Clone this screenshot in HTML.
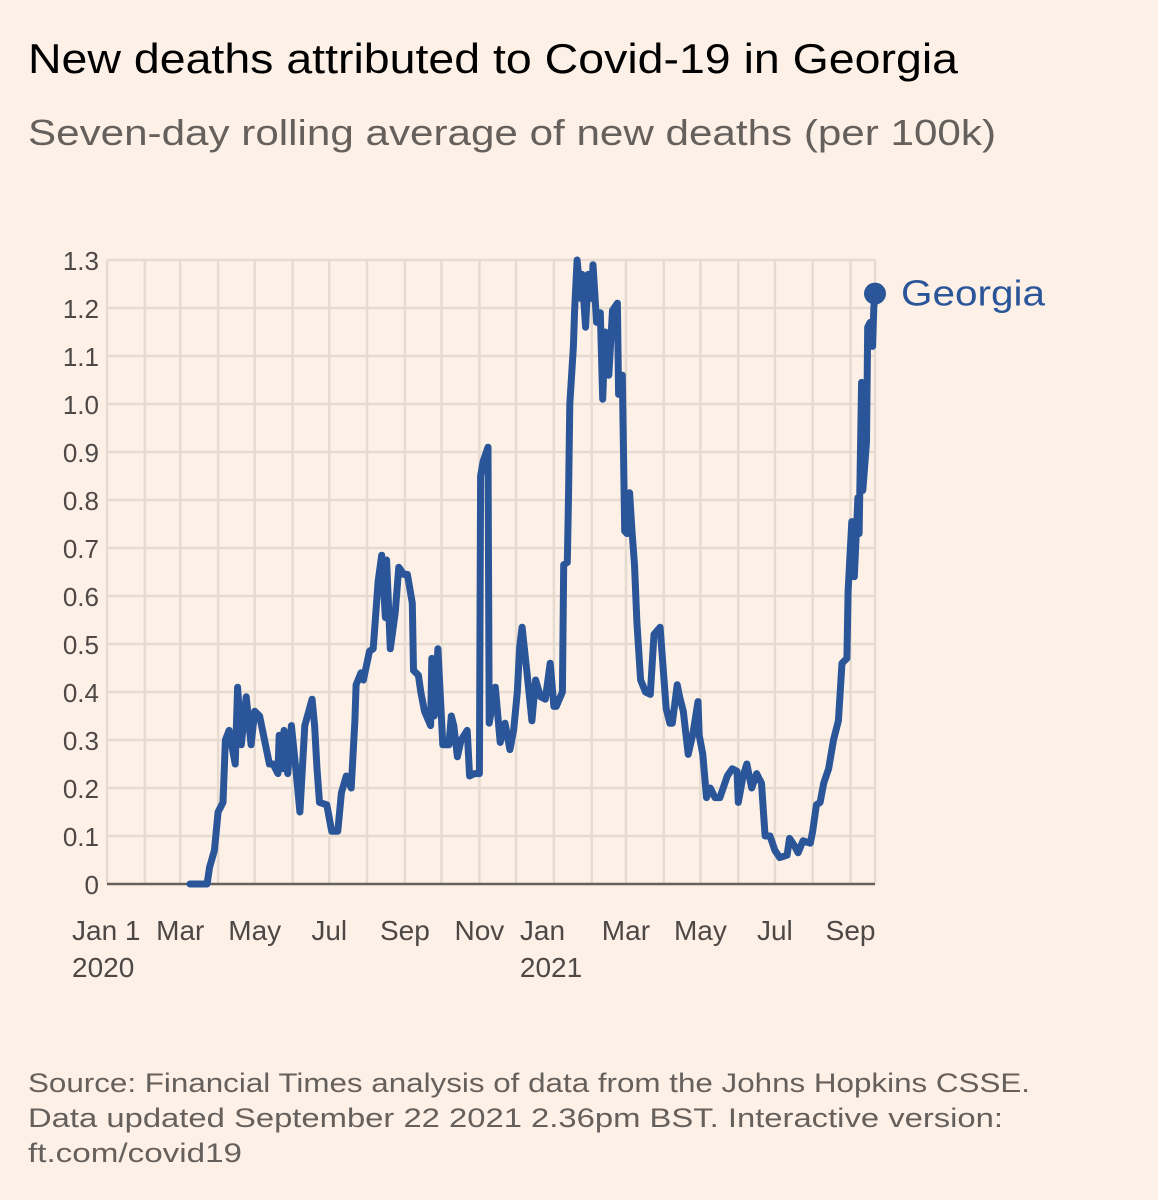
<!DOCTYPE html>
<html><head><meta charset="utf-8"><style>
html,body{margin:0;padding:0;background:#fdf1e7;}
svg{display:block;font-family:"Liberation Sans",sans-serif;}
</style></head><body>
<svg id="chart" width="1158" height="1200" viewBox="0 0 1158 1200">
<rect width="1158" height="1200" fill="#fdf1e7"/>
<text x="28" y="73" font-size="42" fill="#000" textLength="930" lengthAdjust="spacingAndGlyphs">New deaths attributed to Covid-19 in Georgia</text>
<text x="28" y="145" font-size="36" fill="#66605c" textLength="968" lengthAdjust="spacingAndGlyphs">Seven-day rolling average of new deaths (per 100k)</text>
<g id="grid"></g>
<g id="yticks"></g>
<g id="xticks"></g>
<line x1="107" y1="884" x2="875" y2="884" stroke="#66605c" stroke-width="2.5"/>
<path id="line" fill="none" stroke="#2a5699" stroke-width="7" stroke-linejoin="round" stroke-linecap="round"/>
<circle id="enddot" r="11" fill="#2a5699"/>
<text id="endlabel" font-size="36" fill="#2a5699" textLength="144" lengthAdjust="spacingAndGlyphs">Georgia</text>
<text x="28" y="1092" font-size="27" fill="#66605c" textLength="1002" lengthAdjust="spacingAndGlyphs">Source: Financial Times analysis of data from the Johns Hopkins CSSE.</text>
<text x="28" y="1127" font-size="27" fill="#66605c" textLength="975" lengthAdjust="spacingAndGlyphs">Data updated September 22 2021 2.36pm BST. Interactive version:</text>
<text x="28" y="1162" font-size="27" fill="#66605c" textLength="214" lengthAdjust="spacingAndGlyphs">ft.com/covid19</text>
</svg>
<script>
// days since Jan 1 2020
const days = [68,82,84,88,91,95,97,100,105,107,110,114,118,121,125,129,133,136,140,141,144,145,148,151,155,158,162,168,170,172,174,180,184,189,192,196,200,203,204,208,210,215,218,222,225,228,229,232,236,239,243,246,250,251,255,257,260,265,266,268,271,274,275,280,282,284,287,290,295,297,301,305,306,308,312,313,318,322,326,330,333,336,338,340,344,348,351,355,359,363,366,368,373,374,377,378,379,382,383,385,388,389,392,394,397,398,401,404,406,408,411,414,418,419,422,424,426,428,430,432,434,437,441,445,448,453,455,458,461,463,467,469,472,476,480,484,485,488,491,494,498,502,508,512,516,517,521,524,528,532,536,539,543,547,551,557,559,563,566,570,576,578,581,584,587,591,595,599,602,606,607,610,612,615,616,618,619,622,623,625,627,628,629];
const values = [0,0,0.035,0.07,0.15,0.17,0.30,0.32,0.25,0.41,0.29,0.39,0.29,0.36,0.35,0.30,0.25,0.25,0.23,0.31,0.24,0.32,0.23,0.33,0.23,0.15,0.33,0.385,0.33,0.24,0.17,0.165,0.11,0.11,0.19,0.225,0.20,0.34,0.415,0.44,0.425,0.485,0.49,0.63,0.685,0.555,0.675,0.49,0.565,0.66,0.645,0.645,0.585,0.445,0.435,0.40,0.36,0.33,0.47,0.35,0.49,0.34,0.29,0.29,0.35,0.33,0.265,0.30,0.32,0.225,0.23,0.23,0.85,0.88,0.91,0.335,0.41,0.295,0.335,0.28,0.32,0.40,0.495,0.535,0.44,0.34,0.425,0.39,0.385,0.46,0.37,0.37,0.40,0.665,0.67,0.805,1.0,1.12,1.195,1.30,1.22,1.27,1.16,1.27,1.22,1.29,1.17,1.19,1.01,1.15,1.06,1.195,1.21,1.02,1.06,0.735,0.73,0.815,0.735,0.665,0.545,0.425,0.40,0.395,0.52,0.535,0.465,0.365,0.335,0.335,0.415,0.39,0.36,0.27,0.315,0.38,0.31,0.27,0.18,0.20,0.18,0.18,0.225,0.24,0.235,0.17,0.225,0.25,0.20,0.23,0.21,0.10,0.10,0.07,0.055,0.06,0.095,0.08,0.065,0.09,0.085,0.11,0.165,0.17,0.21,0.24,0.30,0.34,0.46,0.47,0.61,0.755,0.64,0.805,0.73,1.045,0.82,0.92,1.16,1.17,1.12,1.20,1.23];
const yTickValues = [0,0.1,0.2,0.3,0.4,0.5,0.6,0.7,0.8,0.9,1.0,1.1,1.2,1.3];
const yTickLabels = ["0","0.1","0.2","0.3","0.4","0.5","0.6","0.7","0.8","0.9","1.0","1.1","1.2","1.3"];
const monthDays = [0,31,60,91,121,152,182,213,244,274,305,335,366,397,425,456,486,517,547,578,609];
const xLabelDays = [0,60,121,182,244,305,366,425,486,547,609];
const xLabelTop = ["Jan 1","Mar","May","Jul","Sep","Nov","Jan","Mar","May","Jul","Sep"];
const xLabelBottom = ["2020","","","","","","2021","","","",""];

const NS = "http://www.w3.org/2000/svg";
const x = d => 107 + d * 1.221;
const y = v => 884 - v * 480;
function mk(tag, attrs, parent){const e=document.createElementNS(NS,tag);for(const k in attrs)e.setAttribute(k,attrs[k]);parent.appendChild(e);return e;}
const grid=document.getElementById('grid'), yt=document.getElementById('yticks'), xt=document.getElementById('xticks');
yTickValues.forEach((v,i)=>{
  if(v>0){const l=mk('line',{x1:107,x2:875,y1:y(v),y2:y(v),stroke:'#e6dbd0','stroke-width':2.5},grid);
  
  }
  const t=mk('text',{x:99,y:y(v)+10,'font-size':26,fill:'#4d4845','text-anchor':'end'},yt);
  
  
  t.textContent=yTickLabels[i];
});
monthDays.forEach(d=>{
  const l=mk('line',{x1:x(d),x2:x(d),y1:y(1.3),y2:884,stroke:'#e6dbd0','stroke-width':2.5},grid);
  
  
});
mk('line',{x1:875,x2:875,y1:y(1.3),y2:884,stroke:'#e6dbd0','stroke-width':2.5},grid);
xLabelDays.forEach((d,i)=>{
  const anchor = i===0?'start':'middle';
  const xx = i===0?72:(i===6?x(d)-34:x(d));
  const t=mk('text',{x:xx,y:940,'font-size':28,fill:'#4d4845','text-anchor':i===6?'start':anchor},xt);
  
  
  t.textContent=xLabelTop[i];
  if(xLabelBottom[i]){
    const b=mk('text',{x:i===0?72:x(d)-34,y:977,'font-size':28,fill:'#4d4845'},xt);
    
    
    b.textContent=xLabelBottom[i];
  }
});
let dstr='';
days.forEach((d,i)=>{dstr+=(i?'L':'M')+x(d).toFixed(1)+','+y(values[i]).toFixed(1);});
document.getElementById('line').setAttribute('d',dstr);
const last=days.length-1;
const dot=document.getElementById('enddot');
dot.setAttribute('cx',x(days[last]));dot.setAttribute('cy',y(values[last]));
const lab=document.getElementById('endlabel');
lab.setAttribute('x',x(days[last])+26);lab.setAttribute('y',y(values[last])+12);
</script>
</body></html>
